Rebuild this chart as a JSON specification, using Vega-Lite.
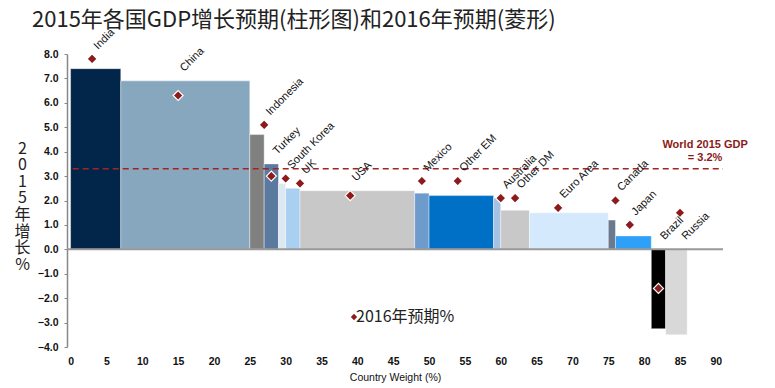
{
  "$schema": "https://vega.github.io/schema/vega-lite/v6.json",
  "width": 656,
  "height": 293,
  "autosize": {"type": "none"},
  "padding": {"left": 67, "top": 54, "right": 52, "bottom": 41},
  "background": "white",
  "config": {
    "view": {"stroke": null},
    "font": "Liberation Sans",
    "axisX": {
      "domain": false, "ticks": false, "grid": false,
      "labelFlush": false, "labelOverlap": false, "labelBound": false, "labelSeparation": 0,
      "labelFontSize": 10.5, "labelFontWeight": "bold", "labelColor": "#111111",
      "labelPadding": 9,
      "titleFontSize": 10.5, "titleFontWeight": "normal", "titleColor": "#111111",
      "titlePadding": 6
    },
    "axisY": {
      "grid": false, "labelOverlap": false,
      "domainColor": "#888888", "domainWidth": 1.5,
      "tickColor": "#888888", "tickSize": 3,
      "labelFontSize": 10.5, "labelFontWeight": "bold", "labelColor": "#111111",
      "labelPadding": 6,
      "titleAngle": 0, "titleAlign": "center", "titleBaseline": "top",
      "titleX": -45, "titleY": 86,
      "titleFont": "Noto Sans CJK SC", "titleFontSize": 16, "titleFontWeight": "normal",
      "titleColor": "#222222", "titleLineHeight": 16.6
    }
  },
  "title": {
    "text": "2015年各国GDP增长预期(柱形图)和2016年预期(菱形)",
    "anchor": "start",
    "frame": "group",
    "dx": -35,
    "offset": -27,
    "baseline": "bottom",
    "font": "Noto Sans CJK SC",
    "fontSize": 22,
    "fontWeight": "normal",
    "color": "#222222"
  },
  "data": {
    "values": [
      {"country": "India", "w0": 0, "w1": 7, "gdp2015": 7.4, "gdp2016": 7.8, "x2016": 3},
      {"country": "China", "w0": 7, "w1": 25, "gdp2015": 6.9, "gdp2016": 6.3, "x2016": 15},
      {"country": "Indonesia", "w0": 25, "w1": 27, "gdp2015": 4.7, "gdp2016": 5.1, "x2016": 27},
      {"country": "Turkey", "w0": 27, "w1": 29, "gdp2015": 3.5, "gdp2016": 3.0, "x2016": 28},
      {"country": "South Korea", "w0": 29, "w1": 30, "gdp2015": 2.7, "gdp2016": 2.9, "x2016": 30},
      {"country": "UK", "w0": 30, "w1": 32, "gdp2015": 2.5, "gdp2016": 2.7, "x2016": 32},
      {"country": "USA", "w0": 32, "w1": 48, "gdp2015": 2.4, "gdp2016": 2.2, "x2016": 39},
      {"country": "Mexico", "w0": 48, "w1": 50, "gdp2015": 2.3, "gdp2016": 2.8, "x2016": 49},
      {"country": "Other EM", "w0": 50, "w1": 59, "gdp2015": 2.2, "gdp2016": 2.8, "x2016": 54},
      {"country": "Australia", "w0": 59, "w1": 60, "gdp2015": 2.1, "gdp2016": 2.1, "x2016": 60},
      {"country": "Other DM", "w0": 60, "w1": 64, "gdp2015": 1.6, "gdp2016": 2.1, "x2016": 62},
      {"country": "Euro Area", "w0": 64, "w1": 75, "gdp2015": 1.5, "gdp2016": 1.7, "x2016": 68},
      {"country": "Canada", "w0": 75, "w1": 76, "gdp2015": 1.2, "gdp2016": 2.0, "x2016": 76},
      {"country": "Japan", "w0": 76, "w1": 81, "gdp2015": 0.55, "gdp2016": 1.0, "x2016": 78},
      {"country": "Brazil", "w0": 81, "w1": 83, "gdp2015": -3.25, "gdp2016": -1.6, "x2016": 82},
      {"country": "Russia", "w0": 83, "w1": 86, "gdp2015": -3.5, "gdp2016": 1.5, "x2016": 85}
    ]
  },
  "layer": [
    {
      "mark": {"type": "rect", "stroke": "white", "strokeWidth": 0.4},
      "encoding": {
        "x": {
          "field": "w0", "type": "quantitative",
          "scale": {"domain": [-0.5, 91], "nice": false, "zero": false},
          "axis": {"title": "Country Weight (%)", "zindex": 2, "tickCount": 19, "labelOverlap": false}
        },
        "x2": {"field": "w1"},
        "y": {
          "field": "gdp2015", "type": "quantitative",
          "scale": {"domain": [-4, 8], "nice": false, "zero": false},
          "axis": {"title": ["2", "0", "1", "5", "年", "增", "长", "%"], "format": ".1f", "tickCount": 40, "labelOverlap": false, "values": [-4, -3, -2, -1, 0, 1, 2, 3, 4, 5, 6, 7, 8]}
        },
        "y2": {"datum": 0},
        "fill": {
          "field": "country", "type": "nominal", "legend": null,
          "scale": {
            "domain": ["India", "China", "Indonesia", "Turkey", "South Korea", "UK", "USA", "Mexico", "Other EM", "Australia", "Other DM", "Euro Area", "Canada", "Japan", "Brazil", "Russia"],
            "range": ["#02264a", "#87a7bf", "#808080", "#5a7aa0", "#dde8f3", "#a9d0f0", "#c8c8c8", "#6d9bcc", "#0070c6", "#a6c2e2", "#c8c8c8", "#d4eafc", "#6a7890", "#2fa0f8", "#000000", "#d8d8d8"]
          }
        }
      }
    },
    {
      "data": {"values": [{}]},
      "mark": {"type": "rule", "color": "#999999", "strokeWidth": 2},
      "encoding": {
        "x": {"datum": -0.5, "type": "quantitative", "axis": {"title": "Country Weight (%)", "zindex": 2, "tickCount": 19, "labelOverlap": false}},
        "x2": {"datum": 91},
        "y": {"datum": 0, "type": "quantitative", "axis": {"title": ["2", "0", "1", "5", "年", "增", "长", "%"], "format": ".1f", "tickCount": 40, "labelOverlap": false, "values": [-4, -3, -2, -1, 0, 1, 2, 3, 4, 5, 6, 7, 8]}}
      }
    },
    {
      "data": {"values": [{}]},
      "mark": {"type": "rule", "color": "#a52222", "strokeWidth": 1.3, "strokeDash": [6, 4]},
      "encoding": {
        "x": {"datum": 0.3, "type": "quantitative", "axis": {"title": "Country Weight (%)", "zindex": 2, "tickCount": 19, "labelOverlap": false}},
        "x2": {"datum": 91},
        "y": {"datum": 3.3, "type": "quantitative", "axis": {"title": ["2", "0", "1", "5", "年", "增", "长", "%"], "format": ".1f", "tickCount": 40, "labelOverlap": false, "values": [-4, -3, -2, -1, 0, 1, 2, 3, 4, 5, 6, 7, 8]}}
      }
    },
    {
      "mark": {"type": "point", "shape": "diamond", "filled": true, "size": 100, "stroke": "white", "strokeWidth": 1.2, "opacity": 1},
      "encoding": {
        "x": {"field": "x2016", "type": "quantitative", "axis": {"title": "Country Weight (%)", "zindex": 2, "tickCount": 19, "labelOverlap": false}},
        "y": {"field": "gdp2016", "type": "quantitative", "axis": {"title": ["2", "0", "1", "5", "年", "增", "长", "%"], "format": ".1f", "tickCount": 40, "labelOverlap": false, "values": [-4, -3, -2, -1, 0, 1, 2, 3, 4, 5, 6, 7, 8]}},
        "color": {
          "datum": "2016年预期%",
          "scale": {"range": ["#8e1b1b"]},
          "legend": {
            "title": null,
            "orient": "none",
            "legendX": 279,
            "legendY": 255,
            "padding": 0,
            "symbolType": "diamond",
            "symbolSize": 40,
            "symbolStrokeWidth": 0,
            "labelFont": "Noto Sans CJK SC",
            "labelFontSize": 16,
            "labelColor": "#222222",
            "labelOffset": -6
          }
        }
      }
    },
    {
      "transform": [
        {"calculate": "datum.gdp2015 < 0 ? 0 : max(datum.gdp2015, datum.gdp2016)", "as": "labelY"}
      ],
      "mark": {"type": "text", "angle": -45, "align": "left", "baseline": "alphabetic", "dx": 10.6, "dy": -2.1, "fontSize": 11, "color": "#111111"},
      "encoding": {
        "x": {"field": "x2016", "type": "quantitative", "axis": {"title": "Country Weight (%)", "zindex": 2, "tickCount": 19, "labelOverlap": false}},
        "y": {"field": "labelY", "type": "quantitative", "axis": {"title": ["2", "0", "1", "5", "年", "增", "长", "%"], "format": ".1f", "tickCount": 40, "labelOverlap": false, "values": [-4, -3, -2, -1, 0, 1, 2, 3, 4, 5, 6, 7, 8]}},
        "text": {"field": "country"}
      }
    },
    {
      "data": {"values": [{}]},
      "mark": {"type": "text", "text": ["World 2015 GDP", "= 3.2%"], "lineHeight": 13, "align": "center", "baseline": "alphabetic", "fontWeight": "bold", "fontSize": 11, "color": "#8b1a1a"},
      "encoding": {
        "x": {"datum": 88.5, "type": "quantitative", "axis": {"title": "Country Weight (%)", "zindex": 2, "tickCount": 19, "labelOverlap": false}},
        "y": {"datum": 4.15, "type": "quantitative", "axis": {"title": ["2", "0", "1", "5", "年", "增", "长", "%"], "format": ".1f", "tickCount": 40, "labelOverlap": false, "values": [-4, -3, -2, -1, 0, 1, 2, 3, 4, 5, 6, 7, 8]}}
      }
    }
  ]
}
